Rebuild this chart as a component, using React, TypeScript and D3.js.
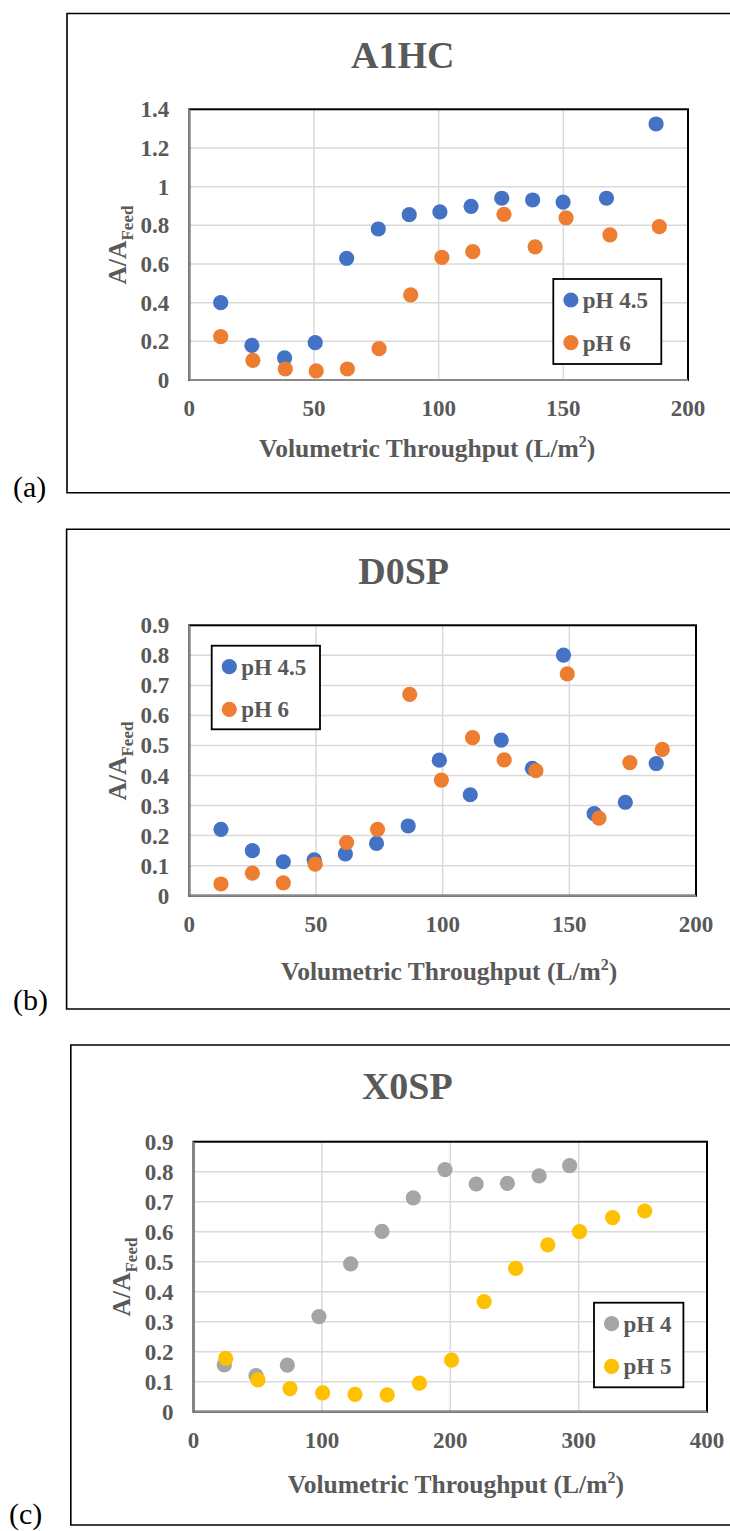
import React from "react";
import * as d3 from "d3";

// ---------- Data ----------
const a1hcPh45X = [12.6, 25.1, 38.2, 50.5, 63.1, 75.8, 88.2, 100.5, 113, 125.3, 137.7, 149.9, 167.3, 187.2];
const a1hcPh45Y = [0.4, 0.179, 0.115, 0.193, 0.629, 0.781, 0.855, 0.869, 0.898, 0.94, 0.931, 0.92, 0.94, 1.324];
const a1hcPh6X = [12.6, 25.5, 38.5, 50.9, 63.4, 76.1, 88.8, 101.3, 113.7, 126.2, 138.7, 151.1, 168.7, 188.5];
const a1hcPh6Y = [0.224, 0.102, 0.057, 0.047, 0.057, 0.162, 0.44, 0.634, 0.664, 0.857, 0.688, 0.839, 0.751, 0.793];

const d0spPh45X = [12.5, 24.9, 37.1, 49.3, 61.6, 73.9, 86.4, 98.7, 110.9, 123.1, 135.4, 147.7, 159.8, 172.1, 184.3];
const d0spPh45Y = [0.221, 0.15, 0.113, 0.119, 0.139, 0.174, 0.232, 0.451, 0.336, 0.518, 0.424, 0.801, 0.273, 0.311, 0.44];
const d0spPh6X = [12.5, 24.9, 37.1, 49.7, 62.1, 74.3, 87, 99.5, 111.8, 124.3, 136.8, 149.2, 161.7, 173.9, 186.7];
const d0spPh6Y = [0.039, 0.075, 0.043, 0.105, 0.177, 0.221, 0.67, 0.385, 0.526, 0.452, 0.416, 0.738, 0.258, 0.443, 0.487];

const x0spPh4X = [24.0, 48.7, 73.1, 97.7, 122.4, 146.8, 171.2, 195.9, 220.2, 244.5, 269.2, 293];
const x0spPh4Y = [0.156, 0.12, 0.155, 0.317, 0.493, 0.601, 0.713, 0.807, 0.759, 0.761, 0.786, 0.82];
const x0spPh5X = [25.1, 50.2, 75.2, 100.6, 125.8, 150.9, 176, 201, 226.4, 251, 276, 300.7, 326.5, 351.5];
const x0spPh5Y = [0.178, 0.106, 0.077, 0.063, 0.058, 0.056, 0.095, 0.172, 0.367, 0.478, 0.556, 0.6, 0.647, 0.669];

const titles = ["A1HC", "D0SP", "X0SP"];
const panelLabels = ["(a)", "(b)", "(c)"];
const legendAB = ["pH 4.5", "pH 6"];
const legendC = ["pH 4", "pH 5"];
const xTicks200 = [0, 50, 100, 150, 200];
const xTicks400 = [0, 100, 200, 300, 400];
const yTicksA = [0, 0.2, 0.4, 0.6, 0.8, 1, 1.2, 1.4];
const yTicksBC = [0, 0.1, 0.2, 0.3, 0.4, 0.5, 0.6, 0.7, 0.8, 0.9];

const BLUE = "#4472C4";
const ORANGE = "#ED7D31";
const GRAY = "#A5A5A5";
const YELLOW = "#FFC000";
const TXT = "#595959";
const FONT = "'Liberation Serif', 'Times New Roman', serif";

type Series = { xs: number[]; ys: number[]; color: string; name: string };

type PanelProps = {
  frame: { x: number; top: number; bottom: number };
  plot: { l: number; t: number; r: number; b: number };
  xTicks: number[];
  yTicks: number[];
  series: Series[];
  title: string;
  titlePos: [number, number];
  xLabelPos: [number, number];
  yLabelPos: [number, number];
  legend: { x: number; y: number; w: number; h: number };
  label: string;
  labelPos: [number, number];
};

function fmt(v: number) {
  return String(+v.toFixed(1));
}

function Panel(p: PanelProps) {
  const { plot } = p;
  const x = d3.scaleLinear().domain([p.xTicks[0], p.xTicks[p.xTicks.length - 1]]).range([plot.l, plot.r]);
  const y = d3.scaleLinear().domain([p.yTicks[0], p.yTicks[p.yTicks.length - 1]]).range([plot.b, plot.t]);
  const lg = p.legend;
  return (
    <g>
      {/* outer frame */}
      <path
        d={`M740,${p.frame.top} H${p.frame.x} V${p.frame.bottom} H740`}
        fill="none"
        stroke="#000"
        strokeWidth={1.6}
      />
      <text x={p.labelPos[0]} y={p.labelPos[1]} fontSize={30} fontFamily={FONT} fill="#000">
        {p.label}
      </text>
      {/* title */}
      <text
        x={p.titlePos[0]}
        y={p.titlePos[1]}
        textAnchor="middle"
        fontSize={38}
        fontWeight="bold"
        fontFamily={FONT}
        fill={TXT}
      >
        {p.title}
      </text>
      {/* plot area */}
      <rect x={plot.l} y={plot.t} width={plot.r - plot.l} height={plot.b - plot.t} fill="#fff" />
      {p.yTicks.slice(1).map((t) => (
        <line key={"gy" + t} x1={plot.l} x2={plot.r} y1={y(t)} y2={y(t)} stroke="#D9D9D9" strokeWidth={1.5} />
      ))}
      {p.xTicks.slice(1).map((t) => (
        <line key={"gx" + t} x1={x(t)} x2={x(t)} y1={plot.t} y2={plot.b} stroke="#D9D9D9" strokeWidth={1.5} />
      ))}
      <rect
        x={plot.l}
        y={plot.t}
        width={plot.r - plot.l}
        height={plot.b - plot.t}
        fill="none"
        stroke="#000"
        strokeWidth={2}
      />
      <line x1={plot.l} x2={plot.l} y1={plot.t} y2={plot.b} stroke="#898989" strokeWidth={2} />
      <line x1={plot.l} x2={plot.r} y1={plot.b} y2={plot.b} stroke="#898989" strokeWidth={2} />
      {/* y tick labels */}
      {p.yTicks.map((t) => (
        <text
          key={"ty" + t}
          x={plot.l - 20}
          y={y(t) + 8}
          textAnchor="end"
          fontSize={23}
          fontWeight="bold"
          fontFamily={FONT}
          fill={TXT}
        >
          {fmt(t)}
        </text>
      ))}
      {/* x tick labels */}
      {p.xTicks.map((t) => (
        <text
          key={"tx" + t}
          x={x(t)}
          y={plot.b + 36}
          textAnchor="middle"
          fontSize={23}
          fontWeight="bold"
          fontFamily={FONT}
          fill={TXT}
        >
          {t}
        </text>
      ))}
      {/* axis titles */}
      <text
        x={p.xLabelPos[0]}
        y={p.xLabelPos[1]}
        textAnchor="middle"
        fontSize={25.5}
        fontWeight="bold"
        fontFamily={FONT}
        fill={TXT}
      >
        Volumetric Throughput (L/m
        <tspan fontSize={16} dy={-10}>
          2
        </tspan>
        <tspan dy={10}>)</tspan>
      </text>
      <text
        transform={`translate(${p.yLabelPos[0]},${p.yLabelPos[1]}) rotate(-90)`}
        textAnchor="middle"
        fontSize={25.5}
        fontWeight="bold"
        fontFamily={FONT}
        fill={TXT}
      >
        A/A
        <tspan fontSize={17} dy={7}>
          Feed
        </tspan>
      </text>
      {/* points */}
      {p.series.map((s, si) => (
        <g key={"s" + si}>
          {s.xs.map((xv, i) => (
            <circle key={i} cx={x(xv)} cy={y(s.ys[i])} r={7.6} fill={s.color} />
          ))}
        </g>
      ))}
      {/* legend */}
      <rect x={lg.x} y={lg.y} width={lg.w} height={lg.h} fill="#fff" stroke="#000" strokeWidth={1.8} />
      {p.series.map((s, si) => {
        const cy = lg.y + 21 + si * 42.6;
        return (
          <g key={"l" + si}>
            <circle cx={lg.x + 17.6} cy={cy} r={7.6} fill={s.color} />
            <text
              x={lg.x + 29.5}
              y={cy + 8}
              fontSize={23}
              fontWeight="bold"
              fontFamily={FONT}
              fill={TXT}
            >
              {s.name}
            </text>
          </g>
        );
      })}
    </g>
  );
}

export default function App() {
  return (
    <svg
      width={730}
      height={1531}
      style={{ position: "absolute", left: 0, top: 0, background: "#fff" }}
    >
      <rect width={730} height={1531} fill="#fff" />
      <Panel
        frame={{ x: 67, top: 13.5, bottom: 492.7 }}
        plot={{ l: 189.3, t: 109.3, r: 688, b: 380 }}
        xTicks={xTicks200}
        yTicks={yTicksA}
        series={[
          { xs: a1hcPh45X, ys: a1hcPh45Y, color: BLUE, name: legendAB[0] },
          { xs: a1hcPh6X, ys: a1hcPh6Y, color: ORANGE, name: legendAB[1] },
        ]}
        title={titles[0]}
        titlePos={[402.7, 68.3]}
        xLabelPos={[427.2, 457.3]}
        yLabelPos={[126, 245]}
        legend={{ x: 553.3, y: 279, w: 108, h: 85 }}
        label={panelLabels[0]}
        labelPos={[13, 497]}
      />
      <Panel
        frame={{ x: 66.6, top: 529.3, bottom: 1009 }}
        plot={{ l: 189.3, t: 625.3, r: 696, b: 895.7 }}
        xTicks={xTicks200}
        yTicks={yTicksBC}
        series={[
          { xs: d0spPh45X, ys: d0spPh45Y, color: BLUE, name: legendAB[0] },
          { xs: d0spPh6X, ys: d0spPh6Y, color: ORANGE, name: legendAB[1] },
        ]}
        title={titles[1]}
        titlePos={[403.6, 584]}
        xLabelPos={[449.2, 980]}
        yLabelPos={[126, 761]}
        legend={{ x: 211.7, y: 645.7, w: 108.3, h: 83.6 }}
        label={panelLabels[1]}
        labelPos={[13, 1010]}
      />
      <Panel
        frame={{ x: 70.8, top: 1045, bottom: 1525 }}
        plot={{ l: 193.5, t: 1141.7, r: 707, b: 1411.7 }}
        xTicks={xTicks400}
        yTicks={yTicksBC}
        series={[
          { xs: x0spPh4X, ys: x0spPh4Y, color: GRAY, name: legendC[0] },
          { xs: x0spPh5X, ys: x0spPh5Y, color: YELLOW, name: legendC[1] },
        ]}
        title={titles[2]}
        titlePos={[407.3, 1099]}
        xLabelPos={[455.8, 1493]}
        yLabelPos={[130, 1277]}
        legend={{ x: 594, y: 1302.7, w: 89.4, h: 84.6 }}
        label={panelLabels[2]}
        labelPos={[9, 1524]}
      />
    </svg>
  );
}
